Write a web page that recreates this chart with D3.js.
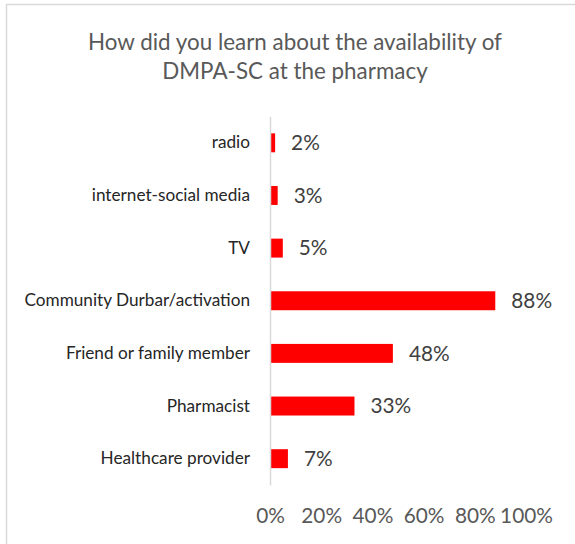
<!DOCTYPE html>
<html><head><meta charset="utf-8">
<script src="https://cdn.jsdelivr.net/npm/d3@7"></script>
<style>html,body{margin:0;padding:0;background:#fff;overflow:hidden}</style>
</head><body>
<script>
const categories = ["radio","internet-social media","TV","Community Durbar/activation","Friend or family member","Pharmacist","Healthcare provider"];
const values = [0.02,0.03,0.05,0.88,0.48,0.33,0.07];
const tickValues = [0,0.2,0.4,0.6,0.8,1.0];
const titleLines = ["How did you learn about the availability of","DMPA-SC at the pharmacy"];

const W=575,H=544;
const font = "Lato, 'Open Sans', sans-serif";
const svg=d3.select("body").append("svg").attr("width",W).attr("height",H);
svg.append("rect").attr("x",6.5).attr("y",4.5).attr("width",W+10).attr("height",H+10)
  .attr("fill","#fff").attr("stroke","#d9d9d9").attr("stroke-width",1.5);

const x=d3.scaleLinear().domain([0,1]).range([270,526]);
const y=d3.scaleBand().domain(categories).range([116.5,485]).paddingInner(0.64).paddingOuter(0.32);

svg.append("g").selectAll("text").data(titleLines).join("text")
  .attr("x",295).attr("y",(d,i)=>50+i*28.5).attr("text-anchor","middle")
  .attr("font-family",font).attr("font-size",22.4).attr("fill","#595959").text(d=>d);

svg.append("g").selectAll("rect").data(values).join("rect")
  .attr("x",x(0)).attr("y",(d,i)=>y(categories[i])).attr("height",y.bandwidth())
  .attr("width",d=>x(d)-x(0)).attr("fill","#ff0000");

// vertical axis line + category labels
const yAxis=d3.axisLeft(y).tickSize(0).tickPadding(20);
const gy=svg.append("g").attr("transform",`translate(${x(0)},0)`).call(yAxis);
gy.select(".domain").attr("stroke","#d9d9d9").attr("stroke-width",1.5);
gy.selectAll("text").attr("font-family",font).attr("font-size",17.2).attr("fill","#262626");

// x tick labels
const xAxis=d3.axisBottom(x).tickValues(tickValues).tickFormat(d3.format(".0%")).tickSize(0).tickPadding(0);
const gx=svg.append("g").attr("transform",`translate(0,${508})`).call(xAxis);
gx.select(".domain").remove();
gx.selectAll("text").attr("font-family",font).attr("font-size",20.8).attr("fill","#595959");

// data labels
svg.append("g").selectAll("text").data(values).join("text")
  .attr("x",d=>x(d)+16).attr("y",(d,i)=>y(categories[i])+y.bandwidth()/2)
  .attr("dy","0.35em").attr("font-family",font).attr("font-size",20.8).attr("fill","#404040")
  .text(d=>d3.format(".0%")(d));
</script>
</body></html>
